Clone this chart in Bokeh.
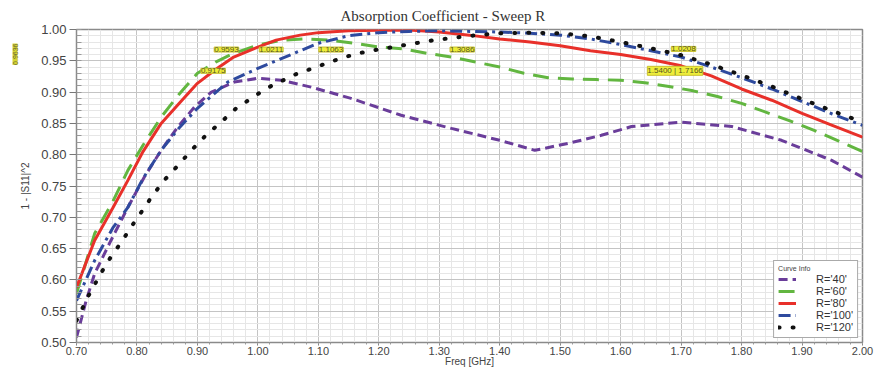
from bokeh.plotting import figure
from bokeh.models import (FixedTicker, NumeralTickFormatter, Legend, LegendItem,
                          LabelSet, ColumnDataSource, Range1d, Title)
from bokeh.core.properties import value
from bokeh.embed import file_html
from bokeh.resources import INLINE

# ---------------- data ----------------
title_text = "Absorption Coefficient - Sweep R"
x_label = "Freq [GHz]"
y_label = "1 - |S11|^2"

x_ticks = [0.70, 0.80, 0.90, 1.00, 1.10, 1.20, 1.30, 1.40, 1.50, 1.60, 1.70, 1.80, 1.90, 2.00]
y_ticks = [0.50, 0.55, 0.60, 0.65, 0.70, 0.75, 0.80, 0.85, 0.90, 0.95, 1.00]

f_r40 = [0.70, 0.716, 0.73, 0.757, 0.785, 0.812, 0.84, 0.868, 0.895, 0.923,
         0.961, 1.00, 1.039, 1.088, 1.154, 1.237, 1.32, 1.40, 1.458, 1.513,
         1.568, 1.618, 1.70, 1.784, 1.866, 1.949, 2.00]
v_r40 = [0.508, 0.567, 0.610, 0.663, 0.716, 0.764, 0.807, 0.845, 0.876, 0.900,
         0.916, 0.922, 0.919, 0.908, 0.890, 0.863, 0.842, 0.823, 0.807, 0.818,
         0.831, 0.845, 0.852, 0.845, 0.823, 0.791, 0.764]

f_r60 = [0.70, 0.73, 0.76, 0.785, 0.81, 0.84, 0.87, 0.90, 0.93, 0.96,
         1.00, 1.04, 1.08, 1.12, 1.16, 1.20, 1.24, 1.28, 1.32, 1.36,
         1.40, 1.44, 1.48, 1.52, 1.56, 1.60, 1.64, 1.68, 1.72, 1.76,
         1.80, 1.84, 1.88, 1.92, 1.96, 2.00]
v_r60 = [0.578, 0.674, 0.725, 0.775, 0.815, 0.860, 0.897, 0.930, 0.948, 0.962,
         0.975, 0.983, 0.985, 0.983, 0.978, 0.972, 0.969, 0.962, 0.956, 0.948,
         0.940, 0.930, 0.923, 0.921, 0.920, 0.919, 0.915, 0.909, 0.902, 0.893,
         0.882, 0.868, 0.854, 0.839, 0.822, 0.805]

f_r80 = [0.70, 0.73, 0.76, 0.785, 0.81, 0.84, 0.87, 0.90, 0.93, 0.96,
         1.00, 1.03, 1.07, 1.10, 1.15, 1.20, 1.25, 1.30, 1.35, 1.40,
         1.45, 1.50, 1.55, 1.60, 1.65, 1.70, 1.75, 1.80, 1.85, 1.90,
         1.95, 2.00]
v_r80 = [0.588, 0.663, 0.715, 0.759, 0.805, 0.850, 0.882, 0.914, 0.936, 0.956,
         0.972, 0.983, 0.991, 0.995, 0.998, 0.999, 0.999, 0.996, 0.991, 0.985,
         0.980, 0.974, 0.966, 0.960, 0.952, 0.942, 0.926, 0.905, 0.887, 0.866,
         0.847, 0.828]

f_r100 = [0.70, 0.73, 0.76, 0.785, 0.81, 0.84, 0.87, 0.90, 0.95, 1.00,
          1.06, 1.10, 1.15, 1.20, 1.25, 1.30, 1.35, 1.40, 1.45, 1.50,
          1.55, 1.60, 1.65, 1.70, 1.75, 1.80, 1.85, 1.90, 1.95, 2.00]
v_r100 = [0.567, 0.631, 0.683, 0.716, 0.762, 0.807, 0.843, 0.874, 0.916, 0.938,
          0.962, 0.978, 0.990, 0.995, 0.997, 0.998, 0.997, 0.996, 0.994, 0.991,
          0.985, 0.976, 0.966, 0.956, 0.940, 0.923, 0.905, 0.885, 0.865, 0.847]

f_r120 = [0.70, 0.72, 0.74, 0.757, 0.774, 0.790, 0.807, 0.826, 0.845, 0.868,
          0.890, 0.914, 0.939, 0.964, 0.989, 1.014, 1.04, 1.066, 1.091, 1.116,
          1.141, 1.166, 1.193, 1.242, 1.292, 1.342, 1.40, 1.45, 1.50, 1.55,
          1.60, 1.65, 1.70, 1.75, 1.80, 1.85, 1.90, 1.95, 2.00]
v_r120 = [0.535, 0.575, 0.610, 0.637, 0.660, 0.684, 0.708, 0.735, 0.759, 0.783,
          0.807, 0.831, 0.852, 0.874, 0.890, 0.906, 0.918, 0.930, 0.938, 0.947,
          0.955, 0.962, 0.967, 0.975, 0.983, 0.989, 0.994, 0.995, 0.994, 0.989,
          0.980, 0.970, 0.959, 0.944, 0.927, 0.909, 0.889, 0.870, 0.852]

series_names = ["R='40'", "R='60'", "R='80'", "R='100'", "R='120'"]

marker_x = [0.948, 1.022, 1.121, 1.338, 0.926, 1.704, 1.690]
marker_y = [0.968, 0.968, 0.968, 0.968, 0.934, 0.969, 0.934]
marker_text = ["0.9593", "1.0211", "1.1063", "1.3086", "0.9175", "1.0208", "1.5400 | 1.7166"]
side_marker_text = "0.9636"

# ---------------- figure ----------------
p = figure(width=874, height=369, x_range=Range1d(0.70, 2.00), y_range=Range1d(0.50, 1.00),
           output_backend="svg", toolbar_location=None,
           min_border_left=76, min_border_right=12, min_border_top=29, min_border_bottom=27)
p.background_fill_color = "white"
p.border_fill_color = "white"
p.outline_line_color = "#8a8a8a"
p.outline_line_width = 1.5

p.title.text = title_text
p.title.text_font = "Liberation Serif"
p.title.text_font_size = "15px"
p.title.text_font_style = "normal"
p.title.text_color = "#333333"
p.title.align = "left"
p.title.offset = 264
p.title.standoff = 11

# small rotated marker box to the left of the y axis
side = Title(text=side_marker_text, align="right", offset=14, text_font="Liberation Sans",
             text_font_size="7px", text_font_style="normal", text_color="#666633",
             background_fill_color="#d6d630", standoff=0)
p.add_layout(side, "left")

x_minor = [round(0.70 + 0.02 * i, 2) for i in range(66)]
y_minor = [round(0.50 + 0.01 * i, 2) for i in range(51)]
p.xaxis.ticker = FixedTicker(ticks=x_ticks, minor_ticks=x_minor)
p.yaxis.ticker = FixedTicker(ticks=y_ticks, minor_ticks=y_minor)
p.xaxis.formatter = NumeralTickFormatter(format="0.00")
p.yaxis.formatter = NumeralTickFormatter(format="0.00")

for ax in (p.xaxis, p.yaxis):
    ax.axis_line_color = "#8a8a8a"
    ax.major_tick_line_color = "#777777"
    ax.minor_tick_line_color = "#999999"
    ax.major_label_text_font = "Liberation Sans"
    ax.major_label_text_font_size = "12px"
    ax.major_label_text_color = "#444444"
    ax.axis_label_text_font = "Liberation Sans"
    ax.axis_label_text_font_size = "10px"
    ax.axis_label_text_font_style = "normal"
    ax.axis_label_text_color = "#444444"

p.xaxis.major_label_text_font_size = "11px"
p.yaxis.major_label_text_font_size = "13px"

p.yaxis.axis_label = y_label
p.yaxis.major_tick_out = 7
p.yaxis.major_tick_in = 0
p.yaxis.minor_tick_in = 5
p.yaxis.minor_tick_out = 0
p.yaxis.major_label_standoff = 3
p.yaxis.axis_label_standoff = 7

p.xaxis.axis_label = x_label
p.xaxis.major_tick_out = 3
p.xaxis.major_tick_in = 0
p.xaxis.minor_tick_out = 2
p.xaxis.minor_tick_in = 0
p.xaxis.major_label_standoff = 1
p.xaxis.axis_label_standoff = -2

p.xgrid.grid_line_color = "#c4c4c4"
p.ygrid.grid_line_color = "#c4c4c4"
p.xgrid.minor_grid_line_color = "#e6e6e6"
p.ygrid.minor_grid_line_color = "#e6e6e6"

# ---------------- curves ----------------
r40 = p.line(f_r40, v_r40, line_color="#6a3d9a", line_width=3, line_dash="9 5")
r60 = p.line(f_r60, v_r60, line_color="#62b640", line_width=3, line_dash="16 9")
r80 = p.line(f_r80, v_r80, line_color="#e8302a", line_width=3)
r100 = p.line(f_r100, v_r100, line_color="#2e4a9e", line_width=3, line_dash="12 5 3 5")
r120 = p.line(f_r120, v_r120, line_color="#111111", line_width=4, line_dash="1 13", line_cap="round")

legend = Legend(items=[LegendItem(label=n, renderers=[r]) for n, r in
                       zip(series_names, [r40, r60, r80, r100, r120])],
                location="bottom_right", title="Curve Info")
legend.title_text_font = "Liberation Sans"
legend.title_text_font_size = "7px"
legend.title_text_font_style = "normal"
legend.title_text_color = "#444444"
legend.title_standoff = 1
legend.label_text_font = "Liberation Sans"
legend.label_text_font_size = "11px"
legend.label_text_color = "#333333"
legend.label_height = 12
legend.glyph_height = 12
legend.glyph_width = 18
legend.label_standoff = 20
legend.spacing = 0
legend.padding = 4
legend.margin = 4
legend.border_line_color = "#555555"
legend.border_line_width = 1.5
legend.background_fill_alpha = 1
p.add_layout(legend)

# ---------------- marker labels ----------------
msrc = ColumnDataSource(dict(x=marker_x, y=marker_y, t=marker_text))
labels = LabelSet(x="x", y="y", text="t", source=msrc, text_align="center",
                  text_baseline="middle", text_font=value("Liberation Sans"),
                  text_font_size=value("8px"),
                  text_color="#555522", background_fill_color="#eeee3a",
                  border_line_color="#c8c030", border_line_width=1)
p.add_layout(labels)

open("out.html", "w").write(file_html(p, INLINE))
